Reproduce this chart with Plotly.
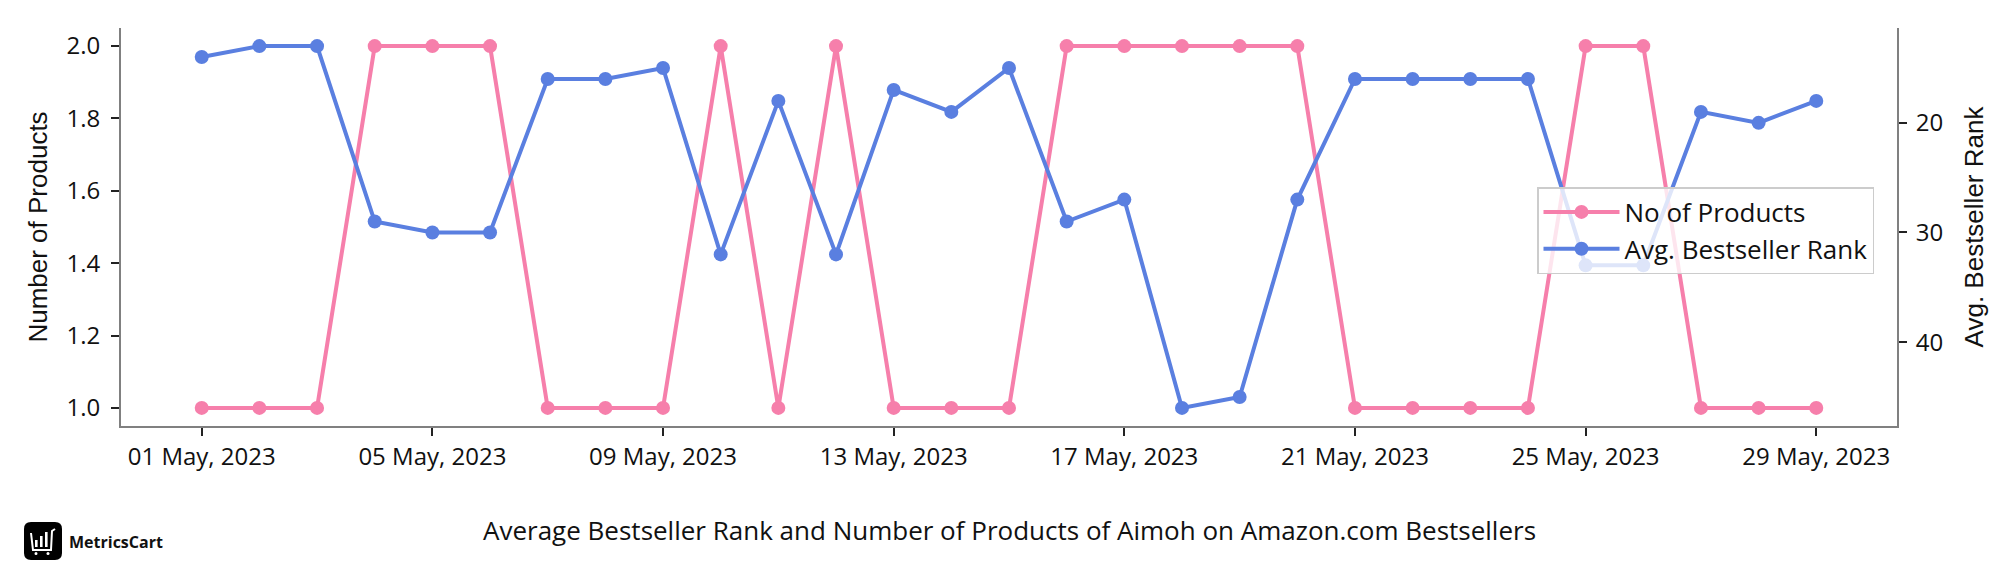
import plotly.graph_objects as go
import pandas as pd

dates = pd.date_range("2023-05-01", "2023-05-29", freq="D")
no_of_products = [1, 1, 1, 2, 2, 2, 1, 1, 1, 2, 1, 2, 1, 1, 1, 2, 2, 2, 2, 2, 1, 1, 1, 1, 2, 2, 1, 1, 1]
avg_rank = [14, 13, 13, 29, 30, 30, 16, 16, 15, 32, 18, 32, 17, 19, 15, 29, 27, 46, 45, 27, 16, 16, 16, 16, 33, 33, 19, 20, 18]
tick_dates = pd.date_range("2023-05-01", "2023-05-29", freq="4D")
left_ticks = [1.0, 1.2, 1.4, 1.6, 1.8, 2.0]
right_ticks = [20, 30, 40]

PINK = "#F67FAB"
BLUE = "#5A7FE0"
OFF = 8  # default page body margin
PAGE_W, PAGE_H = 2016, 576
W, H = PAGE_W - OFF, PAGE_H - OFF
# plot area in page pixels
PL, PR, PT, PB = 121, 1897, 28, 426
ML, MR, MT, MB = PL - OFF, W - (PR - OFF), PT - OFF, H - (PB - OFF)
PW, PH = PR - PL, PB - PT


def px(x):
    return (x - PL) / PW


def py(y):
    return (PB - y) / PH


def pad(lo, hi, frac=0.05):
    m = (hi - lo) * frac
    return lo - m, hi + m


fig = go.Figure()
fig.add_trace(go.Scatter(
    x=dates, y=no_of_products, name="No of Products", mode="lines+markers",
    line=dict(color=PINK, width=4), marker=dict(size=14, color=PINK), yaxis="y"))
fig.add_trace(go.Scatter(
    x=dates, y=avg_rank, name="Avg. Bestseller Rank", mode="lines+markers",
    line=dict(color=BLUE, width=4), marker=dict(size=14, color=BLUE), yaxis="y2"))

x0 = dates[0] - (dates[-1] - dates[0]) * 0.05
x1 = dates[-1] + (dates[-1] - dates[0]) * 0.05
y_lo, y_hi = pad(min(no_of_products), max(no_of_products))
r_lo, r_hi = pad(min(avg_rank), max(avg_rank))

FONT = "Open Sans, Inter, sans-serif"
tick_font = dict(family=FONT, size=24, color="#111")
title_font = dict(family="Liberation Sans, Arial, sans-serif", size=26, color="#111")

# logo shapes (page pixel -> paper)
lx0, lx1, ly0, ly1, r = 24, 62, 522, 560, 7
logo_path = (f"M {px(lx0 + r)},{py(ly0)} L {px(lx1 - r)},{py(ly0)} Q {px(lx1)},{py(ly0)} {px(lx1)},{py(ly0 + r)} "
             f"L {px(lx1)},{py(ly1 - r)} Q {px(lx1)},{py(ly1)} {px(lx1 - r)},{py(ly1)} "
             f"L {px(lx0 + r)},{py(ly1)} Q {px(lx0)},{py(ly1)} {px(lx0)},{py(ly1 - r)} "
             f"L {px(lx0)},{py(ly0 + r)} Q {px(lx0)},{py(ly0)} {px(lx0 + r)},{py(ly0)} Z")
shapes = [dict(type="path", path=logo_path, xref="paper", yref="paper",
               fillcolor="black", line=dict(width=0), layer="above")]
for bx, btop in [(35, 540), (40, 536), (45, 532)]:
    shapes.append(dict(type="rect", xref="paper", yref="paper",
                       x0=px(bx), x1=px(bx + 2.6), y0=py(547), y1=py(btop),
                       fillcolor="white", line=dict(width=0), layer="above"))
cart = (f"M {px(31)},{py(533)} L {px(33)},{py(550)} L {px(51)},{py(550)} L {px(52)},{py(531)} L {px(55)},{py(529)}")
shapes.append(dict(type="path", path=cart, xref="paper", yref="paper",
                   line=dict(color="white", width=2), layer="above"))
for wx in (36, 48):
    shapes.append(dict(type="circle", xref="paper", yref="paper",
                       x0=px(wx - 1.5), x1=px(wx + 1.5), y0=py(552), y1=py(555),
                       fillcolor="white", line=dict(width=0), layer="above"))

axis_common = dict(showgrid=False, zeroline=False, showline=True, linecolor="#808080", linewidth=2,
                   ticks="outside", ticklen=8, tickwidth=1.5, tickcolor="#222", tickfont=tick_font)

fig.update_layout(
    width=W, height=H,
    margin=dict(l=ML, r=MR, t=MT, b=MB, autoexpand=False),
    paper_bgcolor="white", plot_bgcolor="white",
    showlegend=True,
    legend=dict(x=px(1537), y=py(187), xanchor="left", yanchor="top",
                bgcolor="rgba(255,255,255,0.8)", bordercolor="#cccccc", borderwidth=1.5,
                font=dict(family=FONT, size=26, color="#111"),
                itemwidth=76, tracegroupgap=0),
    xaxis=dict(type="date", range=[x0, x1], tickvals=list(tick_dates), tickformat="%d %b, %Y",
               **axis_common),
    yaxis=dict(range=[y_lo, y_hi], tickvals=left_ticks, tickformat=".1f", ticklabelstandoff=6,
               title=dict(text="Number of Products", font=title_font, standoff=11), **axis_common),
    yaxis2=dict(range=[r_hi, r_lo], overlaying="y", side="right", tickvals=right_ticks,
                ticklabelstandoff=4,
                title=dict(text="Avg. Bestseller Rank", font=title_font, standoff=23), **axis_common),
    shapes=shapes,
    annotations=[
        dict(text="Average Bestseller Rank and Number of Products of Aimoh on Amazon.com Bestsellers",
             xref="paper", yref="paper", x=0.5, y=py(530), xanchor="center", yanchor="middle",
             showarrow=False, font=dict(family=FONT, size=26, color="#111")),
        dict(text="<b>MetricsCart</b>", xref="paper", yref="paper", x=px(67), y=py(542),
             xanchor="left", yanchor="middle", showarrow=False,
             font=dict(family=FONT, size=16, color="#111")),
    ],
)

fig.write_html("out.html")
